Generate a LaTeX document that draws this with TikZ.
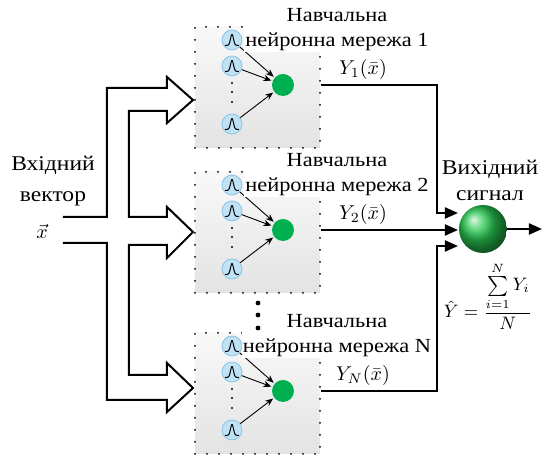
\documentclass[tikz,border=0pt]{standalone}
\usepackage{fontspec}
\setmainfont{Liberation Serif}[FakeStretch=1.12]
\usetikzlibrary{arrows.meta}
\definecolor{rbfblue}{RGB}{192,226,245}
\definecolor{rbfedge}{RGB}{140,195,228}
\definecolor{hidgreen}{RGB}{0,176,80}
\definecolor{sphgreen}{RGB}{40,200,80}
\tikzset{%
  netbox/.style={draw,dash pattern=on 0pt off 6pt,line cap=round,line width=1pt,
    top color=gray!5,bottom color=gray!22,minimum width=62.5pt,minimum height=60.5pt,inner sep=0},
  rbf/.style={draw=rbfedge,fill=rbfblue,shape=circle,minimum size=10pt,inner sep=0,
    path picture={\draw[black,line width=0.5pt,shift={(path picture bounding box.center)}]
      plot[domain=-3.5:3.5,samples=30,smooth] ({\x*1pt},{(-2.7+5.4*exp(-(\x*\x)/1.1))*1pt});}},
  hid/.style={shape=circle,fill=hidgreen,minimum size=11pt,inner sep=0},
  sphere/.style={shape=circle,shading=ball,ball color=sphgreen,minimum size=24pt,inner sep=0},
  syn/.style={draw,line width=0.45pt,-{Stealth[length=4pt,width=3.2pt]},shorten >=0.5pt},
  wire/.style={draw,line width=1pt},
  tip/.style={-{Triangle[length=6.5pt,width=5.5pt]}},
  blockarrow/.style={draw,line width=1pt,line join=miter},
  caption/.style={fill=white,inner sep=0.5pt,align=center,font=\fontsize{10}{12.5}\selectfont},
  label/.style={align=center,font=\fontsize{10.5}{15.5}\selectfont}
}
\begin{document}
\begin{tikzpicture}[x=0.5pt,y=-0.5pt]
  \useasboundingbox (0,0) rectangle (543,459);
  % input vector
  \draw[blockarrow] (63,217) -- (107,217) -- (107,88) -- (167,88) -- (167,77) -- (193,100)
    -- (167,123) -- (167,111) -- (129,111) -- (129,217) -- (167,217) -- (167,207) -- (193,232)
    -- (167,258) -- (167,245) -- (129,245) -- (129,375) -- (167,375) -- (167,363) -- (193,388)
    -- (167,412) -- (167,400) -- (107,400) -- (107,243) -- (63,243);
  \node[label] (inlbl) at (53,181) {Вхідний\\вектор};
  \node (xvec) at (42,231) {$\vec{x}$};
  % the N networks
  \foreach \k/\t/\n in {1/27/1,2/172/2,3/333/N} {
    \node[netbox] (net\k) at (257.5,\t+60.5) {};
    \node[rbf] (u\k-1) at (232,\t+13) {};
    \node[rbf] (u\k-2) at (232,\t+39) {};
    \node[rbf] (u\k-3) at (232,\t+97) {};
    \node[hid] (h\k) at (283,\t+58) {};
    \foreach \d in {56,65,75}
      \fill (232,\t+\d) circle[radius=0.55pt];
    \draw[syn] (u\k-1) -- (h\k);
    \draw[syn] (u\k-2) -- (h\k);
    \draw[syn] (u\k-3) -- (h\k);
    \node[caption] (cap\k) at (337,\t+3) {Навчальна\\нейронна мережа \n};
    \node[inner sep=1pt] (y\k) at (363,\t+43) {$Y_{\n}(\bar{x})$};
  }
  \foreach \y in {303,315,328}
    \fill (258,\y) circle[radius=1.2pt];
  % output
  \node[sphere] (sum) at (483,229) {};
  \coordinate (j1) at (437,213);
  \coordinate (e1) at (458,213);
  \coordinate (e2) at (458,230);
  \coordinate (j3) at (437,246);
  \coordinate (e3) at (458,246);
  \coordinate (out) at (542,229);
  \draw[wire,tip] (net1.east |- h1) -| (j1) -- (e1);
  \draw[wire,tip] (net2.east |- h2) -- (e2);
  \draw[wire,tip] (net3.east |- h3) -| (j3) -- (e3);
  \draw[wire,tip] (sum) -- (out);
  \node[label,font=\fontsize{10.5}{13}\selectfont] (outlbl) at (490,180) {Вихідний\\сигнал};
  \node[inner sep=1pt] (avg) at (488,296) {\small$\displaystyle\hat{Y}=\frac{\sum\limits_{i=1}^{N}Y_i}{N}$};
\end{tikzpicture}
\end{document}
